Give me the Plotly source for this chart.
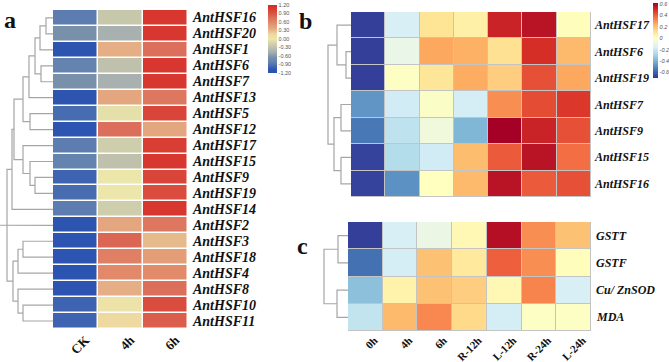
import plotly.graph_objects as go

W, H = 669, 362

# ---------------- Panel a data ----------------
genes_a = ["AntHSF16", "AntHSF20", "AntHSF1", "AntHSF6", "AntHSF7", "AntHSF13", "AntHSF5",
           "AntHSF12", "AntHSF17", "AntHSF15", "AntHSF9", "AntHSF19", "AntHSF14", "AntHSF2",
           "AntHSF3", "AntHSF18", "AntHSF4", "AntHSF8", "AntHSF10", "AntHSF11"]
cols_a = ["CK", "4h", "6h"]
a_ck = [-0.85, -0.65, -1.10, -0.80, -0.65, -1.10, -0.95, -1.12, -0.85, -0.80,
        -1.00, -0.95, -0.85, -1.10, -1.12, -1.12, -1.15, -1.12, -1.00, -1.00]
a_4h = [-0.25, -0.45, 0.35, -0.30, -0.45, 0.40, -0.05, 0.75, -0.20, -0.30,
        0.00, 0.00, -0.20, 0.40, 0.80, 0.65, 0.58, 0.35, 0.05, 0.15]
a_6h = [1.10, 1.10, 0.75, 1.10, 1.10, 0.70, 1.00, 0.40, 1.05, 1.10,
        1.00, 0.95, 1.10, 0.70, 0.30, 0.45, 0.57, 0.75, 0.95, 0.85]
# linkage (left, right, height) scipy-style ids
link_a = [(0, 1, 7), (20, 2, 13), (3, 4, 12), (21, 22, 18), (23, 5, 24), (6, 7, 23),
          (24, 25, 30), (10, 11, 18), (9, 27, 23), (8, 28, 30), (26, 29, 39), (30, 12, 41),
          (14, 15, 30), (32, 16, 35), (18, 19, 30), (17, 34, 35), (33, 35, 40),
          (31, 36, 46), (37, 13, 53)]
cbar_a_vals = [1.2, 0.9, 0.6, 0.3, 0.0, -0.3, -0.6, -0.9, -1.2]
cbar_a_text = ["1.20", "0.90", "0.60", "0.30", "0.00", "-0.30", "-0.60", "-0.90", "-1.20"]

# ---------------- Panel b data ----------------
genes_b = ["AntHSF17", "AntHSF6", "AntHSF19", "AntHSF7", "AntHSF9", "AntHSF15", "AntHSF16"]
times = ["0h", "4h", "6h", "R-12h", "L-12h", "R-24h", "L-24h"]
b_hsf17 = [-0.68, -0.16, 0.11, 0.06, 0.53, 0.57, 0.01]
b_hsf6 = [-0.68, -0.10, 0.26, 0.24, 0.12, 0.50, 0.22]
b_hsf19 = [-0.68, -0.01, 0.10, 0.25, 0.17, 0.43, 0.26]
b_hsf7 = [-0.48, -0.18, -0.02, -0.17, 0.31, 0.44, 0.48]
b_hsf9 = [-0.55, -0.23, -0.07, -0.39, 0.62, 0.53, 0.43]
b_hsf15 = [-0.67, -0.26, -0.18, 0.21, 0.41, 0.57, 0.37]
b_hsf16 = [-0.67, -0.49, 0.00, 0.22, 0.57, 0.41, 0.43]
link_b = [(1, 2, 5), (0, 7, 14), (3, 4, 10), (5, 6, 10), (9, 10, 17), (8, 11, 23)]
cbar_b_vals = [0.6, 0.4, 0.2, 0.0, -0.2, -0.4, -0.6]
cbar_b_text = ["0.6", "0.4", "0.2", "0", "-0.2", "-0.4", "-0.6"]

# ---------------- Panel c data ----------------
genes_c = ["GSTT", "GSTF", "Cu/ ZnSOD", "MDA"]
c_gstt = [-0.68, -0.16, -0.09, 0.03, 0.58, 0.31, 0.20]
c_gstf = [-0.57, -0.17, 0.20, 0.09, 0.40, 0.31, 0.01]
c_sod = [-0.36, 0.05, 0.20, 0.17, 0.03, 0.33, -0.16]
c_mda = [-0.22, 0.22, 0.32, 0.14, -0.17, -0.01, -0.01]
link_c = [(0, 1, 10), (2, 3, 11), (4, 5, 24)]

# ---------------- styles ----------------
scale_a = [[0.0, "#2a52b0"], [0.05, "#2d55b0"], [0.15, "#5f7fb0"], [0.23, "#7890aa"],
           [0.31, "#a8b0b0"], [0.40, "#c8c8ac"], [0.50, "#ece6aa"], [0.57, "#eed8a0"],
           [0.65, "#e4ac82"], [0.74, "#e28a6a"], [0.81, "#dc705c"], [0.90, "#da4a3c"],
           [1.0, "#d42a26"]]
ZMIN_B, ZMAX_B = -0.70, 0.62
rdylbu = ["#313695", "#4575b4", "#74add1", "#abd9e9", "#e0f3f8", "#ffffbf",
          "#fee090", "#fdae61", "#f46d43", "#d73027", "#a50026"]
scale_b = []
for i, c in enumerate(rdylbu):
    if i <= 5:
        v = ZMIN_B + (0 - ZMIN_B) * i / 5
    else:
        v = ZMAX_B * (i - 5) / 5
    scale_b.append([(v - ZMIN_B) / (ZMAX_B - ZMIN_B), c])

SERIF = "Liberation Serif"
SANS = "Liberation Sans"
LINE = dict(color="#a6a6a6", width=1.2)


def px_x(p):
    return p / W


def px_y(p):
    return 1 - p / H


def dendro(n, links):
    pos = {i: (float(i), 0.0) for i in range(n)}
    xs, ys = [], []
    for k, (a, b, h) in enumerate(links):
        ya, ha = pos[a]
        yb, hb = pos[b]
        xs += [ha, h, h, hb, None]
        ys += [ya, ya, yb, yb, None]
        pos[n + k] = ((ya + yb) / 2, h)
    return xs, ys


fig = go.Figure()

# Panel a heatmap
z_a = [[a_ck[i], a_4h[i], a_6h[i]] for i in range(len(genes_a))]
fig.add_trace(go.Heatmap(
    z=z_a, x=list(range(len(cols_a))), y=list(range(len(genes_a))),
    colorscale=scale_a, zmin=-1.2, zmax=1.2, xgap=1.5, ygap=1.5,
    xaxis="x", yaxis="y", hoverinfo="skip",
    colorbar=dict(x=px_x(267.5), xanchor="left", y=px_y(39), yanchor="middle",
                  len=68, lenmode="pixels", thickness=8.5, thicknessmode="pixels",
                  xpad=0, ypad=0, outlinewidth=0, ticks="",
                  tickvals=cbar_a_vals, ticktext=cbar_a_text,
                  tickfont=dict(family=SANS, size=5.5, color="#555555"))))
dx, dy = dendro(len(genes_a), link_a)
fig.add_trace(go.Scatter(x=dx, y=dy, mode="lines", line=LINE, xaxis="x2", yaxis="y",
                         hoverinfo="skip", showlegend=False))

# Panel b heatmap
z_b = [b_hsf17, b_hsf6, b_hsf19, b_hsf7, b_hsf9, b_hsf15, b_hsf16]
fig.add_trace(go.Heatmap(
    z=z_b, x=list(range(len(times))), y=list(range(len(genes_b))),
    colorscale=scale_b, zmin=ZMIN_B, zmax=ZMAX_B, xgap=1, ygap=1,
    xaxis="x3", yaxis="y3", hoverinfo="skip",
    colorbar=dict(x=px_x(652.7), xanchor="left", y=px_y(40.5), yanchor="middle",
                  len=75, lenmode="pixels", thickness=5, thicknessmode="pixels",
                  xpad=0, ypad=0, outlinewidth=0, ticks="",
                  tickvals=cbar_b_vals, ticktext=cbar_b_text,
                  tickfont=dict(family=SANS, size=5.5, color="#555555", style="italic"))))
dx, dy = dendro(len(genes_b), link_b)
fig.add_trace(go.Scatter(x=dx, y=dy, mode="lines", line=LINE, xaxis="x4", yaxis="y3",
                         hoverinfo="skip", showlegend=False))

# Panel c heatmap
z_c = [c_gstt, c_gstf, c_sod, c_mda]
fig.add_trace(go.Heatmap(
    z=z_c, x=list(range(len(times))), y=list(range(len(genes_c))),
    colorscale=scale_b, zmin=ZMIN_B, zmax=ZMAX_B, xgap=1, ygap=1, showscale=False,
    xaxis="x5", yaxis="y5", hoverinfo="skip"))
dx, dy = dendro(len(genes_c), link_c)
fig.add_trace(go.Scatter(x=dx, y=dy, mode="lines", line=LINE, xaxis="x6", yaxis="y5",
                         hoverinfo="skip", showlegend=False))

label_font = dict(family=SERIF, size=14, color="#111111", weight="bold", style="italic")
label_font_bc = dict(family=SERIF, size=12, color="#111111", weight="bold", style="italic")
col_font_a = dict(family=SERIF, size=13, color="#111111", weight="bold")
col_font_bc = dict(family=SERIF, size=11, color="#111111", weight="bold")
hidden = dict(visible=False, showgrid=False, zeroline=False, automargin=False)
plain = dict(showgrid=False, zeroline=False, showline=False, ticks="", automargin=False)

fig.update_layout(
    width=W, height=H, margin=dict(l=0, r=0, t=0, b=0, autoexpand=False),
    paper_bgcolor="white", plot_bgcolor="white", showlegend=False,
    xaxis=dict(domain=[px_x(53), px_x(188)], range=[-0.5, 2.5], anchor="y",
               tickvals=list(range(3)), ticktext=cols_a, tickangle=-45,
               tickfont=col_font_a, ticklabelshift=10, ticklabelstandoff=0, **plain),
    yaxis=dict(domain=[px_y(329), px_y(10)], range=[len(genes_a) - 0.5, -0.5], anchor="x",
               showticklabels=False, **plain),
    xaxis2=dict(domain=[0, px_x(53)], range=[53, 0], anchor="y", **hidden),
    xaxis3=dict(domain=[px_x(351), px_x(591)], range=[-0.5, 6.5], anchor="y3",
                showticklabels=False, **plain),
    yaxis3=dict(domain=[px_y(197), px_y(12)], range=[len(genes_b) - 0.5, -0.5], anchor="x3",
                showticklabels=False, **plain),
    xaxis4=dict(domain=[px_x(320), px_x(351)], range=[31, 0], anchor="y3", **hidden),
    xaxis5=dict(domain=[px_x(348), px_x(591)], range=[-0.5, 6.5], anchor="y5",
                tickvals=list(range(len(times))), ticktext=times, tickangle=-45,
                tickfont=col_font_bc, ticklabelshift=9, ticklabelstandoff=0, **plain),
    yaxis5=dict(domain=[px_y(331), px_y(222)], range=[len(genes_c) - 0.5, -0.5], anchor="x5",
                showticklabels=False, **plain),
    xaxis6=dict(domain=[px_x(320), px_x(348)], range=[28, 0], anchor="y5", **hidden),
)

# row labels
for genes, yref, xpx, font in [(genes_a, "y", 190, label_font),
                               (genes_b, "y3", 592, label_font_bc),
                               (genes_c, "y5", 594, label_font_bc)]:
    for i, g in enumerate(genes):
        fig.add_annotation(text=g, x=px_x(xpx), y=i, xref="paper", yref=yref,
                           showarrow=False, xanchor="left", yanchor="middle", font=font)

# grey grid backing for panels b and c
fig.add_shape(type="rect", xref="x3", yref="y3", x0=-0.5, x1=len(times) - 0.5,
              y0=-0.5, y1=len(genes_b) - 0.5, fillcolor="#c4c4c4", line=dict(width=0),
              layer="below")
fig.add_shape(type="rect", xref="x5", yref="y5", x0=-0.5, x1=len(times) - 0.5,
              y0=-0.5, y1=len(genes_c) - 0.5, fillcolor="#c4c4c4", line=dict(width=0),
              layer="below")

panel_font = dict(family=SERIF, size=24, color="#111111", weight="bold")
for txt, px, py in [("a", 10, 20), ("b", 305, 21), ("c", 302, 246)]:
    fig.add_annotation(text=txt, x=px_x(px), y=px_y(py), xref="paper", yref="paper",
                       showarrow=False, xanchor="center", yanchor="middle", font=panel_font)

fig.write_html("out.html", config={"displayModeBar": False},
               post_script="document.body.style.margin='0px';document.body.style.overflow='hidden';")
